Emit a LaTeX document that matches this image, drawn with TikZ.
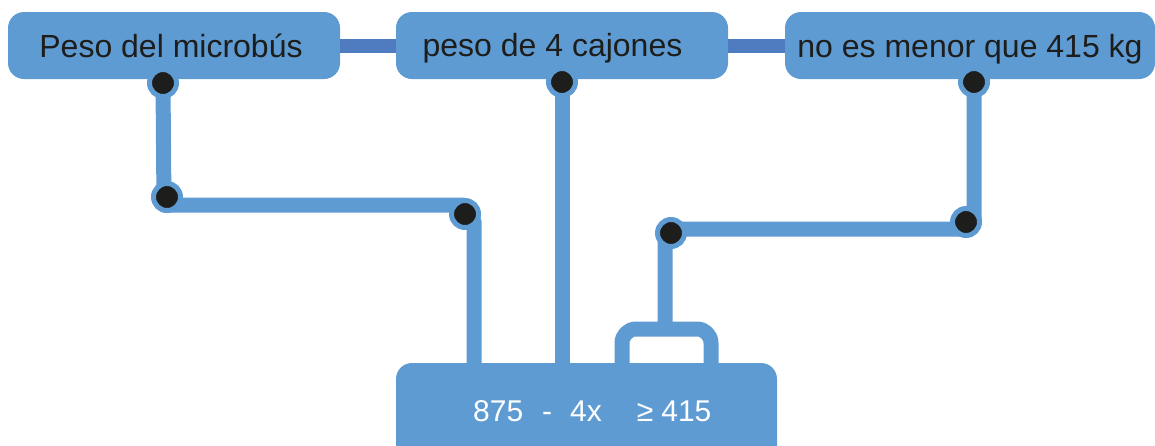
\documentclass[tikz,border=0pt]{standalone}
\usepackage{fontspec}
\setmainfont{Liberation Sans}
\definecolor{boxblue}{RGB}{95,155,211}
\definecolor{barblue}{RGB}{79,124,193}
\definecolor{inkblack}{RGB}{29,29,27}
\begin{document}
\begin{tikzpicture}[x=1pt,y=-1pt,
  box/.style={draw=none,fill=boxblue,rounded corners=16pt,inner sep=0pt},
  txt/.style={anchor=base,inner sep=0pt,text=inkblack,font=\fontsize{32}{38}\selectfont},
  link/.style={draw=boxblue,line width=15pt,line join=round},
  bar/.style={draw=barblue,line width=14pt},
  dot/.style={circle,fill=inkblack,draw=boxblue,line width=5pt,minimum size=27pt,inner sep=0pt}]
\useasboundingbox (0,0) rectangle (1155,445);
\clip (0,0) rectangle (1155,445);
% anchor points
\coordinate (p1) at (163,83);
\coordinate (p2) at (562,82);
\coordinate (p3) at (974,82);
\coordinate (p4) at (167,197);
\coordinate (p5) at (465,214);
\coordinate (p6) at (671,233);
\coordinate (p7) at (966,222);
\coordinate (c1) at (164,205);
\coordinate (c2a) at (463,205);
\coordinate (c2b) at (474,221);
\coordinate (c3) at (474,365);
\coordinate (c4) at (562,365);
\coordinate (c5a) at (974,218);
\coordinate (c5b) at (962,229);
\coordinate (c6) at (665,229);
\coordinate (c7) at (665,329);
\coordinate (k1) at (622,365);
\coordinate (k2) at (622,329);
\coordinate (k3) at (711,329);
\coordinate (k4) at (711,365);
% connectors
\draw[link] (p1) -- (c1) -- (c2a) -- (c2b) -- (c3);
\draw[link] (p2) -- (c4);
\draw[link] (p3) -- (c5a) -- (c5b) -- (c6) -- (c7);
\draw[link,rounded corners=14pt] (k1) -- (k2) -- (k3) -- (k4);
% boxes
\node[box,minimum width=332pt,minimum height=67pt] (b1) at (174,45.5) {};
\node[box,minimum width=332pt,minimum height=67pt] (b2) at (562,45.5) {};
\node[box,minimum width=370pt,minimum height=67pt] (b3) at (970,45.5) {};
\draw[bar] (b1.east) -- (b2.west);
\draw[bar] (b2.east) -- (b3.west);
\node[box,minimum width=381pt,minimum height=120pt] (b4) at (586.5,423) {};
% texts
\node[txt] (t1) at (171,57) {Peso del microbús};
\node[txt] (t2) at (552.5,56) {peso de 4 cajones};
\node[txt] (t3) at (970,57) {no es menor que 415 kg};
\node[anchor=base west,inner sep=0pt,text=white,font=\fontsize{30}{36}\selectfont] (t4) at (473,421.5)
  {875\hspace{19pt}-\hspace{18pt}4x\hspace{35pt}≥\hspace{8pt}415};
% dots
\foreach \p in {p1,p2,p3,p4,p5,p6,p7}
  \node[dot] (n\p) at (\p) {};
\end{tikzpicture}
\end{document}
